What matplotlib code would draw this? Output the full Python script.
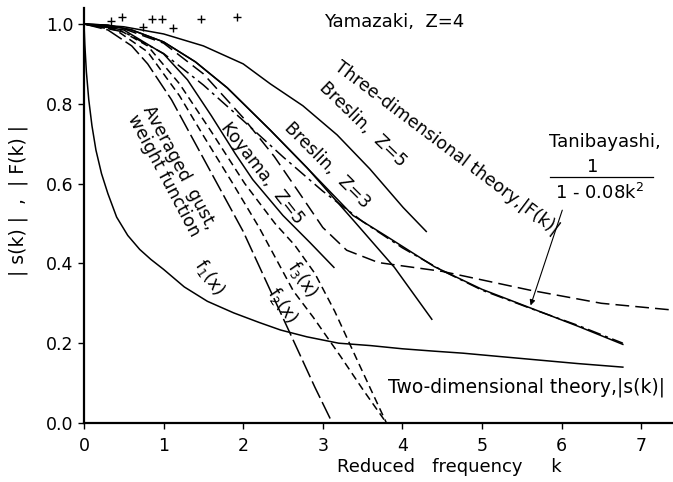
import matplotlib
matplotlib.use("Agg")
import matplotlib.pyplot as plt

# reduced frequency k and amplitude readings for each curve
k_2d = [0, 0.01, 0.03, 0.06, 0.1, 0.15, 0.22, 0.3, 0.41, 0.55, 0.7, 0.84, 1.0, 1.26, 1.55,
        1.88, 2.2, 2.47, 2.8, 3.2, 3.6, 4.0, 4.4, 4.76, 5.2, 5.7, 6.2, 6.77]
s_2d = [1, 0.95, 0.88, 0.81, 0.745, 0.684, 0.625, 0.575, 0.516, 0.47, 0.435, 0.41, 0.385, 0.341, 0.305,
        0.276, 0.252, 0.233, 0.216, 0.2, 0.194, 0.186, 0.18, 0.175, 0.167, 0.158, 0.149, 0.14]

k_3d = [0, 0.3, 0.6, 1.0, 1.4, 1.8, 2.34, 2.8, 3.38, 3.8, 4.4, 5.0, 5.6, 6.2, 6.77]
f_3d = [1, 0.997, 0.985, 0.955, 0.905, 0.84, 0.734, 0.64, 0.52, 0.468, 0.392, 0.335, 0.289, 0.243, 0.197]

k_bres5 = [0, 0.5, 1.0, 1.5, 2.0, 2.34, 2.75, 3.18, 3.59, 4.01, 4.3]
f_bres5 = [1, 0.993, 0.975, 0.945, 0.9, 0.85, 0.795, 0.722, 0.637, 0.54, 0.48]

k_bres3 = [0, 0.3, 0.6, 1.0, 1.4, 1.8, 2.34, 2.8, 3.38, 3.9, 4.37]
f_bres3 = [1, 0.997, 0.985, 0.955, 0.905, 0.84, 0.734, 0.64, 0.509, 0.39, 0.26]

k_koy = [0, 0.5, 1.0, 1.3, 1.6, 1.9, 2.12, 2.5, 2.84, 3.14]
f_koy = [1, 0.985, 0.925, 0.86, 0.77, 0.675, 0.61, 0.52, 0.452, 0.39]

k_tani = [0, 0.5, 1, 1.5, 2, 2.5, 3, 3.5, 4, 4.5, 5, 5.6, 6.2, 6.77]
f_tani = [1, 0.98, 0.926, 0.847, 0.758, 0.667, 0.581, 0.505, 0.439, 0.382, 0.333, 0.288, 0.245, 0.2]

k_flat = [0, 0.5, 1.0, 1.5, 2.0, 2.39, 2.7, 3.0, 3.3, 3.7, 4.5, 5.6, 6.5, 7.4]
f_flat = [1, 0.988, 0.952, 0.875, 0.765, 0.668, 0.578, 0.49, 0.433, 0.402, 0.38, 0.333, 0.3, 0.283]

k_f1 = [0, 0.3, 0.6, 0.8, 1.1, 1.4, 1.7, 2.0, 2.3, 2.6, 2.9, 3.12]
f_f1 = [1, 0.985, 0.945, 0.9, 0.81, 0.7, 0.59, 0.48, 0.35, 0.22, 0.09, 0]

k_f2 = [0, 0.4, 0.8, 1.2, 1.5, 1.87, 2.2, 2.63, 2.88, 3.09, 3.22, 3.5, 3.8]
f_f2 = [1, 0.985, 0.93, 0.82, 0.72, 0.6, 0.49, 0.331, 0.265, 0.205, 0.168, 0.085, 0]

k_f3 = [0, 0.4, 0.8, 1.2, 1.6, 2.02, 2.4, 2.65, 2.9, 3.15, 3.45, 3.8]
f_f3 = [1, 0.99, 0.945, 0.85, 0.73, 0.6, 0.5, 0.445, 0.375, 0.28, 0.15, 0]

# Yamazaki, Z=4 test points
k_yama = [0.34, 0.48, 0.74, 0.85, 0.98, 1.12, 1.47, 1.92]
f_yama = [1.008, 1.018, 0.992, 1.013, 1.013, 0.99, 1.013, 1.018]

plt.rcParams['font.family'] = ['DejaVu Sans']
fig = plt.figure(figsize=(6.73, 4.82), dpi=100)
ax = fig.add_axes([0.1248, 0.1224, 0.8752, 0.861])

lw = 1.1
ax.plot(k_2d, s_2d, 'k-', lw=lw)
ax.plot(k_3d, f_3d, 'k-', lw=lw)
ax.plot(k_bres5, f_bres5, 'k-', lw=lw)
ax.plot(k_bres3, f_bres3, 'k-', lw=lw)
ax.plot(k_koy, f_koy, 'k-', lw=lw)
ax.plot(k_tani, f_tani, 'k', lw=lw, dashes=(9, 3, 2, 3))
ax.plot(k_flat, f_flat, 'k', lw=lw, dashes=(9, 4))
ax.plot(k_f1, f_f1, 'k', lw=lw, dashes=(12, 3))
ax.plot(k_f2, f_f2, 'k', lw=lw, dashes=(5, 3))
ax.plot(k_f3, f_f3, 'k', lw=lw, dashes=(5, 3))
ax.plot(k_yama, f_yama, 'k+', ms=6, mew=1.0)

ax.set_xlim(0, 7.4)
ax.set_ylim(0, 1.04)
ax.spines['top'].set_visible(False)
ax.spines['right'].set_visible(False)
ax.spines['left'].set_linewidth(1.6)
ax.spines['bottom'].set_linewidth(1.6)
ax.set_xticks(range(0, 8))
ax.set_yticks([0, 0.2, 0.4, 0.6, 0.8, 1.0])
ax.set_yticklabels(['0.0', '0.2', '0.4', '0.6', '0.8', '1.0'])
ax.tick_params(axis='both', direction='out', length=4, width=1.0, labelsize=12.5)
ax.tick_params(axis='x', pad=6)

ax.set_xlabel('Reduced   frequency     k', fontsize=13)
ax.xaxis.set_label_coords(0.62, -0.085)
ax.set_ylabel('| s(k) |  ,  | F(k) |', fontsize=13.5)
ax.yaxis.set_label_coords(-0.095, 0.535)

txt = dict(fontsize=12.5, ha='center', va='center', rotation_mode='anchor')
ax.text(3.9, 1.005, 'Yamazaki,  Z=4', fontsize=13, ha='center', va='center')
ax.text(4.56, 0.69, 'Three-dimensional theory,|F(k)|', rotation=-37, **txt)
ax.text(3.5, 0.748, 'Breslin,  Z=5', rotation=-44, **txt)
ax.text(3.05, 0.645, 'Breslin,  Z=3', rotation=-45, **txt)
ax.text(2.24, 0.625, 'Koyama,  Z=5', rotation=-52, **txt)
ax.text(1.1, 0.63, 'Averaged  gust,\nweight function', rotation=-62, linespacing=1.0, **txt)
ax.text(1.58, 0.366, r'f$_1$(x)', rotation=-56, **txt)
ax.text(2.74, 0.36, r'f$_3$(x)', rotation=-56, **txt)
ax.text(2.5, 0.295, r'f$_2$(x)', rotation=-56, **txt)
ax.text(6.55, 0.704, 'Tanibayashi,', fontsize=13, ha='center', va='center')
ax.text(6.39, 0.642, '1', fontsize=13, ha='center', va='center')
ax.plot([5.85, 7.15], [0.617, 0.617], 'k-', lw=0.9, clip_on=False)
ax.text(6.48, 0.577, r'1 - 0.08k$^2$', fontsize=13, ha='center', va='center')
ax.annotate('', xy=(5.6, 0.288), xytext=(6.02, 0.54),
            arrowprops=dict(arrowstyle='-|>', color='k', lw=0.8, mutation_scale=8))
ax.text(5.56, 0.09, 'Two-dimensional theory,|s(k)|', fontsize=13.5, ha='center', va='center')

fig.savefig('out.png', dpi=100)
